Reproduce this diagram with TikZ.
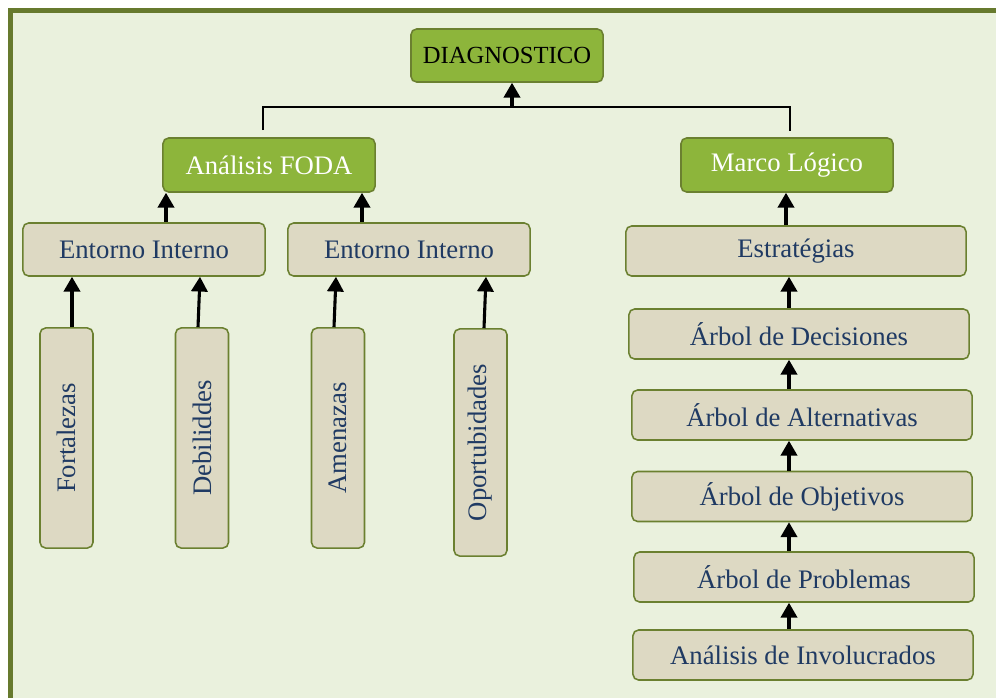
\documentclass[tikz,border=0pt]{standalone}
\usepackage{fontspec}
\setmainfont{Liberation Serif}
\usetikzlibrary{arrows.meta}

\definecolor{pagebg}{HTML}{EAF1DD}
\definecolor{pageline}{HTML}{677A2E}
\definecolor{boxgreen}{HTML}{8DB53B}
\definecolor{boxtan}{HTML}{DDD9C3}
\definecolor{boxline}{HTML}{6B8030}
\definecolor{textblue}{HTML}{1F3A63}

\tikzstyle{greenbox} = [draw=boxline,fill=boxgreen,rounded corners=4pt,line width=1.1pt,text=white,font=\fontsize{19}{22}\selectfont,inner sep=0pt]
\tikzstyle{tanbox} = [draw=boxline,fill=boxtan,rounded corners=4pt,line width=1.1pt,text=textblue,font=\fontsize{19}{22}\selectfont,inner sep=0pt]
\tikzstyle{arrowdecorate}=[-{Triangle[width=11.5pt,length=10.5pt]},line width=2.2pt]
\tikzstyle{joinline}=[line width=1.5pt]

\begin{document}
\begin{tikzpicture}[x=0.025cm,y=-0.025cm]
    \useasboundingbox (0,0) rectangle (996,698);
    % page
    \fill[pagebg] (13,13) rectangle (996,698);
    \draw[pageline,line width=3.6pt] (10.5,698) -- (10.5,10.5) -- (996,10.5);
    % nodes
    \node[greenbox,text=black,font=\fontsize{17.5}{20}\selectfont,minimum width=4.8cm,minimum height=1.325cm] (diag) at (507,55.5) {DIAGNOSTICO};
    \foreach \nodename/\x/\y/\label in {
      foda/269/165/Análisis FODA,
      marco/787/165/Marco Lógico}
    {
        \node[greenbox,minimum width=5.3cm,minimum height=1.35cm] (\nodename) at (\x,\y) {\label};
    };
    \foreach \nodename/\x/\y in {ent1/144/249.5, ent2/409/249.5}
    {
        \node[tanbox,minimum width=6.05cm,minimum height=1.325cm] (\nodename) at (\x,\y) {Entorno Interno};
    };
    \foreach \nodename/\x/\y/\h/\label in {
      fort/66.5/438/5.5/Fortalezas,
      deb/202/438/5.5/Debiliddes,
      amen/338/438/5.5/Amenazas,
      oport/480.5/442.5/5.675/Oportubidades}
    {
        \node[tanbox,minimum width=1.325cm,minimum height=\h cm] (\nodename) at (\x,\y) {\rotatebox{90}{\label}};
    };
    \foreach \nodename/\x/\y/\label in {
      estr/796/251/Estratégias,
      dec/799/334/Árbol de Decisiones,
      alt/802/415/Árbol de Alternativas,
      obj/802/496.5/Árbol de Objetivos,
      prob/804/577/Árbol de Problemas,
      inv/803/655/Análisis de Involucrados}
    {
        \node[tanbox,minimum width=8.5cm,minimum height=1.25cm] (\nodename) at (\x,\y) {\label};
    };
    % edges
    \coordinate (barL) at (263,107);
    \coordinate (barR) at (790,107);
    \coordinate (junc) at (512,107);
    \draw[joinline] (foda.north -| barL) ++(0,-7) -- (barL) -- (barR) -- ++(0,24);
    \draw[arrowdecorate] (junc) -- (diag.south -| junc);
    \foreach \startnode/\endnode/\xs/\xe in {
      fort/ent1/72/72, deb/ent1/198/200,
      amen/ent2/334/336, oport/ent2/484/486,
      ent1/foda/166/166, ent2/foda/362/362,
      estr/marco/786/786, dec/estr/789/789,
      alt/dec/789/789, obj/alt/789/789,
      prob/obj/789/789, inv/prob/789/789}
    {
        \draw[arrowdecorate] (\startnode.north -| \xs,0) -- (\endnode.south -| \xe,0);
    };
\end{tikzpicture}
\end{document}
